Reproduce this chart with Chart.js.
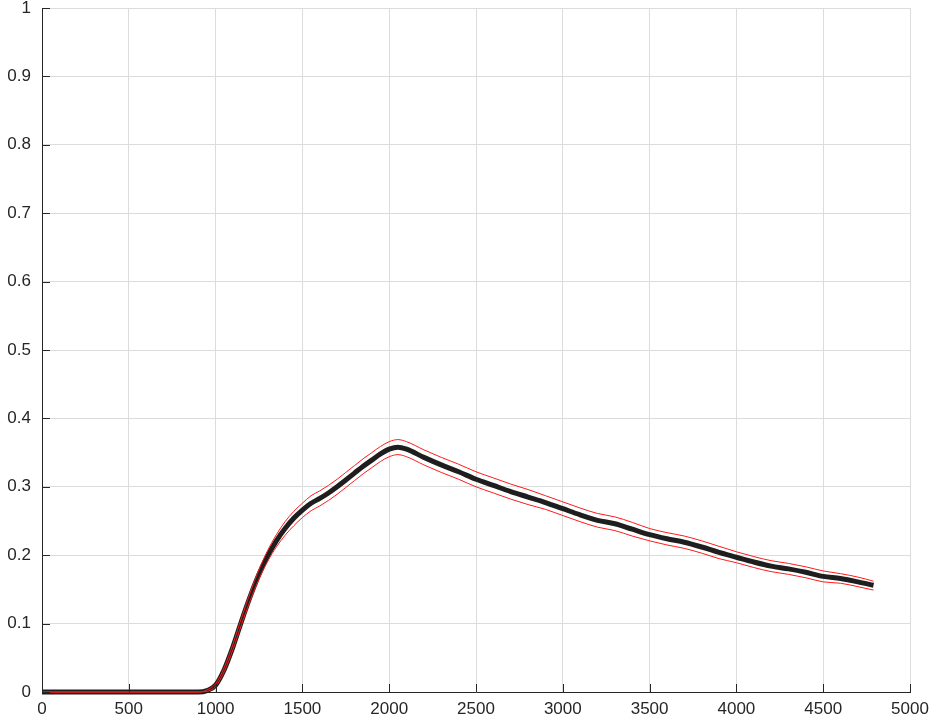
<!DOCTYPE html>
<html>
<head>
<meta charset="utf-8">
<script src="https://cdn.jsdelivr.net/npm/chart.js@4"></script>
<style>
  html, body { margin: 0; padding: 0; background: #fff; }
  #wrap { width: 936px; height: 728px; }
</style>
</head>
<body>
<div id="wrap"><canvas id="chart" width="936" height="728"></canvas></div>
<script>
// sample positions (x axis)
var xs = [0, 500, 900, 950, 1000, 1050, 1100, 1150, 1200, 1250, 1300, 1350, 1400, 1450, 1500,
	1550, 1600, 1650, 1700, 1750, 1800, 1850, 1900, 1950, 2000, 2050, 2100, 2200, 2300, 2400,
	2500, 2600, 2700, 2800, 2900, 3000, 3100, 3200, 3300, 3400, 3500, 3600, 3700, 3800, 3900,
	4000, 4100, 4200, 4300, 4400, 4500, 4600, 4700, 4790];

// mean curve (black)
var meanVals = [0, 0, 0, 0.002, 0.010, 0.033, 0.066, 0.104, 0.140, 0.172, 0.199, 0.221, 0.239, 0.254, 0.266,
	0.276, 0.283, 0.291, 0.300, 0.310, 0.320, 0.330, 0.339, 0.348, 0.355, 0.358, 0.355, 0.343, 0.332, 0.322,
	0.311, 0.302, 0.293, 0.285, 0.277, 0.268, 0.259, 0.251, 0.246, 0.238, 0.230, 0.224, 0.219, 0.212, 0.204,
	0.197, 0.190, 0.184, 0.180, 0.175, 0.169, 0.166, 0.161, 0.156];

// upper bound (red)
var upperVals = [0, 0, 0, 0.003, 0.012, 0.036, 0.070, 0.109, 0.146, 0.179, 0.207, 0.230, 0.249, 0.264, 0.276,
	0.287, 0.294, 0.302, 0.311, 0.321, 0.331, 0.341, 0.350, 0.359, 0.366, 0.369, 0.366, 0.354, 0.343, 0.333,
	0.322, 0.313, 0.304, 0.296, 0.287, 0.278, 0.269, 0.261, 0.256, 0.248, 0.239, 0.233, 0.228, 0.221, 0.213,
	0.205, 0.198, 0.192, 0.188, 0.183, 0.177, 0.173, 0.168, 0.162];

// lower bound (red)
var lowerVals = [0, 0, 0, 0.001, 0.008, 0.030, 0.062, 0.099, 0.134, 0.165, 0.191, 0.212, 0.229, 0.243, 0.255,
	0.265, 0.272, 0.280, 0.289, 0.299, 0.309, 0.319, 0.328, 0.337, 0.344, 0.347, 0.344, 0.332, 0.321, 0.311,
	0.300, 0.291, 0.282, 0.274, 0.267, 0.258, 0.249, 0.241, 0.236, 0.228, 0.221, 0.215, 0.210, 0.203, 0.195,
	0.189, 0.182, 0.176, 0.172, 0.167, 0.161, 0.159, 0.154, 0.149];

var xTicks = [0, 500, 1000, 1500, 2000, 2500, 3000, 3500, 4000, 4500, 5000];
var yTicks = [0, 0.1, 0.2, 0.3, 0.4, 0.5, 0.6, 0.7, 0.8, 0.9, 1];

function pts(vals) {
	return xs.map(function(x, i) { return { x: x, y: vals[i] }; });
}

// inward tick marks like the original plot
var inwardTicks = {
	id: "inwardTicks",
	afterDatasetsDraw: function(chart) {
		var ctx = chart.ctx, a = chart.chartArea;
		var sx = chart.scales.x, sy = chart.scales.y;
		ctx.save();
		ctx.strokeStyle = "#262626";
		ctx.lineWidth = 1;
		ctx.beginPath();
		xTicks.forEach(function(v) {
			var p = Math.round(sx.getPixelForValue(v)) + 0.5;
			ctx.moveTo(p, a.bottom);
			ctx.lineTo(p, a.bottom - 8);
		});
		yTicks.forEach(function(v) {
			var p = Math.round(sy.getPixelForValue(v)) + 0.5;
			ctx.moveTo(a.left, p);
			ctx.lineTo(a.left + 8, p);
		});
		ctx.stroke();
		ctx.restore();
	}
};

var font = { family: "'Liberation Sans', Arial, Helvetica, sans-serif", size: 17 };

new Chart(document.getElementById("chart"), {
	type: "line",
	data: {
		datasets: [{
			label: "upper",
			data: pts(upperVals),
			borderColor: "#ff1a1a",
			borderWidth: 1,
			pointRadius: 0,
			cubicInterpolationMode: "monotone",
			clip: 4,
			order: 1
		}, {
			label: "lower",
			data: pts(lowerVals),
			borderColor: "#ff1a1a",
			borderWidth: 1,
			pointRadius: 0,
			cubicInterpolationMode: "monotone",
			clip: 4,
			order: 1
		}, {
			label: "mean",
			data: pts(meanVals),
			borderColor: "#1e1e1e",
			borderWidth: 5,
			pointRadius: 0,
			cubicInterpolationMode: "monotone",
			clip: 4,
			order: 2
		}]
	},
	options: {
		responsive: false,
		animation: false,
		layout: { padding: { top: 8, right: 26, left: 0, bottom: 0 } },
		plugins: { legend: { display: false }, tooltip: { enabled: false } },
		scales: {
			x: {
				type: "linear",
				min: 0,
				max: 5000,
				afterBuildTicks: function(s) { s.ticks = xTicks.map(function(v) { return { value: v }; }); },
				afterFit: function(s) { s.height = 36; s.paddingLeft = 0; s.paddingRight = 0; },
				ticks: { color: "#262626", font: font, padding: 7, maxRotation: 0,
					callback: function(v) { return String(v); } },
				grid: { color: "#dcdcdc", drawTicks: false },
				border: { color: "#262626", width: 1 }
			},
			y: {
				type: "linear",
				min: 0,
				max: 1,
				afterBuildTicks: function(s) { s.ticks = yTicks.map(function(v) { return { value: v }; }); },
				afterFit: function(s) { s.width = 42; s.paddingTop = 0; s.paddingBottom = 0; },
				ticks: { color: "#262626", font: font, padding: 11,
					callback: function(v) { return String(Math.round(v * 10) / 10); } },
				grid: { color: "#dcdcdc", drawTicks: false },
				border: { color: "#262626", width: 1 }
			}
		}
	},
	plugins: [inwardTicks]
});
</script>
</body>
</html>
